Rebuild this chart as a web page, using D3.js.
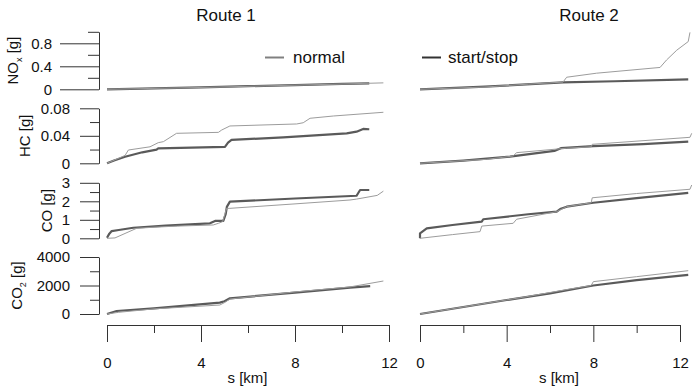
<!DOCTYPE html>
<html>
<head>
<meta charset="utf-8">
<script src="https://cdn.jsdelivr.net/npm/d3@7"></script>
<style>
  html, body { margin: 0; padding: 0; background: #fff; }
  svg { display: block; font-family: "Liberation Sans", Arial, sans-serif; }
</style>
</head>
<body>
<svg id="chart" width="694" height="392"></svg>
<script>
// Cumulative emissions along two routes, normal driving vs. start/stop.
const routes = ["Route 1", "Route 2"];
const modes = ["normal", "start/stop"];
const xMajorTicks = [0, 4, 8, 12];
const xMinorTicks = [2, 6, 10];

// Y-axis ticks per pollutant
const noxMajor = [0, 0.4, 0.8], noxMinor = [0.2, 0.6, 1.0];
const hcMajor = [0, 0.04, 0.08], hcMinor = [0.02, 0.06];
const coMajor = [0, 1, 2, 3], coMinor = [0.5, 1.5, 2.5];
const co2Major = [0, 2000, 4000], co2Minor = [1000, 3000];

// Series: [distance km, cumulative grams]
// Route 1
const r1NoxNormal = [[0,0],[2,0.016],[4,0.032],[6,0.052],[8,0.072],[10,0.092],[11.76,0.112]];
const r1NoxStart  = [[0,0],[2,0.017],[4,0.034],[6,0.054],[8,0.074],[10,0.094],[11.16,0.104]];
const r1HcNormal = [[0,0],[0.77,0.0115],[0.91,0.0193],[1.83,0.024],[2.18,0.030],[2.4,0.0315],[2.96,0.0436],[4.74,0.045],[4.88,0.0484],[5.23,0.0543],[8.07,0.0572],[8.35,0.059],[8.64,0.0655],[9.63,0.0688],[11.76,0.0742]];
const r1HcStart  = [[0,0],[0.3,0.004],[0.77,0.0096],[1.5,0.016],[2.11,0.020],[2.18,0.0218],[5.02,0.024],[5.15,0.030],[5.3,0.034],[7.5,0.0378],[10.2,0.0436],[10.62,0.046],[10.9,0.050],[11.16,0.0495]];
const r1CoNormal = [[0,0],[0.34,0.02],[1.26,0.54],[2,0.60],[3,0.66],[4.52,0.72],[4.74,0.81],[4.92,0.9],[5.09,1.62],[5.23,1.62],[8,1.86],[10.34,2.07],[10.62,2.12],[11.5,2.32],[11.76,2.55]];
const r1CoStart  = [[0,0.03],[0.1,0.25],[0.2,0.39],[0.5,0.45],[1.12,0.57],[2.5,0.68],[4.38,0.81],[4.6,0.94],[4.95,0.94],[5.05,1.3],[5.1,1.7],[5.23,1.98],[8,2.15],[10.62,2.3],[10.77,2.61],[11.16,2.61]];
const r1Co2Normal = [[0,0],[0.5,120],[2,360],[4.8,630],[5.0,800],[5.23,1050],[8,1550],[10.34,1900],[11.76,2315]];
const r1Co2Start  = [[0,0],[0.41,210],[2,400],[4.8,795],[5.0,900],[5.23,1100],[8,1500],[10.34,1850],[11.2,1960]];
// Route 2
const r2NoxNormal = [[0,0],[3,0.04],[5,0.09],[6.6,0.125],[6.77,0.21],[8.15,0.28],[11.08,0.38],[11.38,0.51],[11.85,0.68],[12.38,0.83],[12.46,0.99]];
const r2NoxStart  = [[0,0],[3,0.045],[6.6,0.12],[9,0.14],[12.38,0.174]];
const r2HcNormal = [[0,0],[3.08,0.0058],[4.3,0.0106],[4.46,0.0155],[6.77,0.022],[7.9,0.024],[7.95,0.0276],[12.46,0.0378],[12.54,0.0436]];
const r2HcStart  = [[0,0],[2,0.004],[4.15,0.0096],[6.2,0.018],[6.5,0.022],[8,0.025],[10.3,0.028],[12.38,0.0314]];
const r2CoNormal = [[0,0],[1.5,0.2],[2.77,0.36],[2.85,0.66],[4.3,0.81],[4.46,1.03],[6.31,1.44],[6.77,1.71],[7.9,1.92],[7.95,2.19],[10,2.42],[12.46,2.65],[12.54,2.88]];
const r2CoStart  = [[0,0],[0,0.27],[0.31,0.54],[1.5,0.72],[2.85,0.9],[2.92,1.03],[5,1.3],[6.31,1.44],[6.5,1.6],[6.77,1.71],[8,1.92],[10,2.17],[12.38,2.46]];
const r2Co2Normal = [[0,0],[4,990],[4.75,1170],[6.9,1750],[7.9,2000],[8,2270],[10,2620],[12.38,3040]];
const r2Co2Start  = [[0,0],[2,490],[4,980],[6,1450],[8,2000],[10,2380],[12.38,2740]];

const svg = d3.select("#chart");
const INK = "#333";
const TEXT = "#111";
const LIGHT = "#9c9c9c", DARK = "#5a5a5a";

// Horizontal scales for the two route columns
const xScales = [
  d3.scaleLinear().domain([0, 12]).range([107, 389]),
  d3.scaleLinear().domain([0, 12]).range([420, 680])
];

// Pollutant rows
const rows = [
  { label: "NO", sub: "x", y: d3.scaleLinear().domain([0, 1]).range([89.3, 31.8]),
    major: noxMajor, minor: noxMinor, fmt: d => d === 0 ? "0" : d3.format(".1f")(d),
    tick: 39, minorTick: 11, pad: 8, labelX: 18,
    series: [[r1NoxNormal, r1NoxStart], [r2NoxNormal, r2NoxStart]] },
  { label: "HC", sub: "", y: d3.scaleLinear().domain([0, 0.08]).range([163.3, 108.3]),
    major: hcMajor, minor: hcMinor, fmt: d => d === 0 ? "0" : d3.format(".2f")(d),
    tick: 19, minorTick: 9, pad: 10, labelX: 30,
    series: [[r1HcNormal, r1HcStart], [r2HcNormal, r2HcStart]] },
  { label: "CO", sub: "", y: d3.scaleLinear().domain([0, 3]).range([238.3, 182.8]),
    major: coMajor, minor: coMinor, fmt: d3.format("d"),
    tick: 19, minorTick: 9, pad: 10, labelX: 52,
    series: [[r1CoNormal, r1CoStart], [r2CoNormal, r2CoStart]] },
  { label: "CO", sub: "2", y: d3.scaleLinear().domain([0, 4000]).range([314, 257]),
    major: co2Major, minor: co2Minor, fmt: d3.format("d"),
    tick: 19, minorTick: 9, pad: 10, labelX: 22,
    series: [[r1Co2Normal, r1Co2Start], [r2Co2Normal, r2Co2Start]] }
];

const AXIS_X = 99;

function styleAxis(g) {
  g.selectAll("path.domain").attr("stroke", INK).attr("stroke-width", 1);
  g.selectAll(".tick line").attr("stroke", INK).attr("stroke-width", 1);
  g.selectAll(".tick text").attr("fill", TEXT)
    .style("font-size", "15px").style("font-family", "Liberation Sans, Arial, sans-serif");
}

rows.forEach(row => {
  // minor ticks + domain line
  const gMinor = svg.append("g").attr("transform", `translate(${AXIS_X},0)`)
    .call(d3.axisLeft(row.y).tickValues(row.minor).tickSize(row.minorTick)
      .tickSizeOuter(0).tickFormat(""));
  styleAxis(gMinor);
  // major ticks with labels
  const gMajor = svg.append("g").attr("transform", `translate(${AXIS_X},0)`)
    .call(d3.axisLeft(row.y).tickValues(row.major).tickSize(row.tick)
      .tickSizeOuter(0).tickPadding(row.pad).tickFormat(row.fmt));
  styleAxis(gMajor);
  gMajor.select("path.domain").remove();

  // rotated axis title with subscript
  const [y0, y1] = row.y.range();
  const t = svg.append("text")
    .attr("transform", `translate(${row.labelX},${(y0 + y1) / 2}) rotate(-90)`)
    .attr("text-anchor", "middle")
    .attr("fill", TEXT)
    .style("font-size", "15px");
  t.append("tspan").text(row.label);
  if (row.sub) {
    t.append("tspan").attr("dy", 4).style("font-size", "9px").text(row.sub);
    t.append("tspan").attr("dy", -4).text(" [g]");
  } else {
    t.append("tspan").text(" [g]");
  }

  // the two series in each route column
  row.series.forEach((pair, ci) => {
    const x = xScales[ci];
    const line = d3.line().x(d => x(d[0])).y(d => row.y(d[1]));
    svg.append("path").datum(pair[1]).attr("d", line)
      .attr("fill", "none").attr("stroke", DARK).attr("stroke-width", 2.2)
      .attr("stroke-linejoin", "round");
    svg.append("path").datum(pair[0]).attr("d", line)
      .attr("fill", "none").attr("stroke", LIGHT).attr("stroke-width", 1);
  });
});

// x axes
xScales.forEach((x, ci) => {
  const gMinor = svg.append("g").attr("transform", "translate(0,325)")
    .call(d3.axisBottom(x).tickValues(xMinorTicks).tickSize(8).tickSizeOuter(0).tickFormat(""));
  styleAxis(gMinor);
  const gMajor = svg.append("g").attr("transform", "translate(0,325)")
    .call(d3.axisBottom(x).tickValues(xMajorTicks).tickSize(17).tickSizeOuter(0)
      .tickPadding(15).tickFormat(d3.format("d")));
  styleAxis(gMajor);
  gMajor.select("path.domain").remove();

  svg.append("text")
    .attr("x", ci === 0 ? 247.5 : 559).attr("y", 383)
    .attr("text-anchor", "middle").attr("fill", TEXT)
    .style("font-size", "15px").text("s [km]");

  svg.append("text")
    .attr("x", ci === 0 ? 226 : 589).attr("y", 21)
    .attr("text-anchor", "middle").attr("fill", TEXT)
    .style("font-size", "17px").text(routes[ci]);
});

// legend
const legend = [
  { x: 265, color: "#808080" },
  { x: 422, color: "#333" }
];
legend.forEach((l, i) => {
  svg.append("line").attr("x1", l.x).attr("x2", l.x + 19)
    .attr("y1", 57.5).attr("y2", 57.5)
    .attr("stroke", l.color).attr("stroke-width", 2);
  svg.append("text").attr("x", l.x + (i === 0 ? 28 : 26)).attr("y", 63)
    .attr("fill", TEXT).style("font-size", "17px").text(modes[i]);
});
</script>
</body>
</html>
